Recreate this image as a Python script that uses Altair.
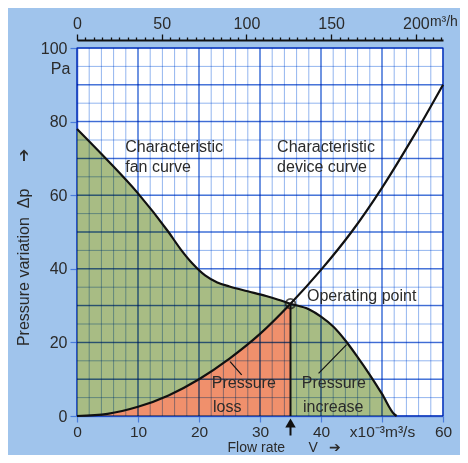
import altair as alt
import pandas as pd

# ---------------- data ----------------
fan_flow = [0, 5, 10, 15, 17, 19, 21, 23, 25, 28, 31, 33, 35, 38, 40, 42, 44, 46, 48, 50, 52, 52.4]
fan_dp = [78, 69.5, 60.5, 50, 45.3, 41.3, 38.2, 36.3, 35.2, 33.9, 32.6, 31.6, 30.5, 29, 27, 24.3, 20.5, 16, 11.2, 6, 0.5, 0]

dev_flow = [0, 5, 10, 15, 20, 25, 30, 35, 40, 45, 50, 55, 60]
dev_dp = [0, 0.6, 2.5, 5.6, 10, 15.6, 22.3, 30.5, 39.7, 50, 62, 75.5, 90]

op_flow = 35
op_dp = 30.5

x_ticks = [0, 10, 20, 30, 40, 50, 60]
y_ticks = [0, 10, 20, 30, 40, 50, 60, 70, 80, 90, 100]
top_ticks = list(range(0, 216, 5))          # m3/h
grid_x_minor = list(range(0, 61, 2))
grid_y_minor = list(range(0, 101, 5))
grid_x_major = [v for v in grid_x_minor if v % 10 == 0]
grid_y_major = [v for v in grid_y_minor if v % 10 == 0]

ann_left_x = [7.9, 7.9, 32.8, 32.8, 37.7, 22.1, 22.3]
ann_left_y = [73.1, 67.6, 73.1, 67.6, 32.5, 8.9, 2.5]
ann_left_t = ["Characteristic", "fan curve", "Characteristic", "device curve",
              "Operating point", "Pressure", "loss"]
ann_center_x = [42.1, 42.0]
ann_center_y = [8.9, 2.5]
ann_center_t = ["Pressure", "increase"]

pointer_x = [25.1, 44.2]
pointer_y = [14.8, 19.4]
pointer_x2 = [27.0, 39.6]
pointer_y2 = [11.2, 11.6]

NB = "\u00a0"
x_title = "Flow rate" + NB * 6 + "V" + NB * 3 + "➔"
y_title = "Pressure variation" + NB * 2 + "Δp" + NB * 6 + "➔"

# ---------------- styles ----------------
FONT = "Liberation Sans"
BG = "#a0c4ec"
BLUE = "#4a7ddb"
GRID_MINOR = "#93b6ef"
GRID_MAJOR = "#6792e2"
GREEN = "#a8bc84"
ORANGE = "#f0906c"
TEXT = "#2b2b2b"
INK = "#111111"

xs = alt.Scale(domain=[0, 60], nice=False, zero=False)
ys = alt.Scale(domain=[0, 100], nice=False, zero=False)

fan_df = pd.DataFrame({"x": fan_flow, "y": fan_dp})
dev_df = pd.DataFrame({"x": dev_flow, "y": dev_dp})
op_df = pd.DataFrame({"x": [op_flow], "y": [op_dp], "y0": [0]})

x_axis = alt.Axis(
    values=x_ticks,
    labelExpr="datum.value === 50 ? 'x10⁻³m³/s' : datum.label",
    grid=False, domainColor=BLUE, domainWidth=1.5,
    tickColor=BLUE, tickSize=6, tickWidth=1.2,
    labelFontSize=15.5, labelColor=TEXT, labelPadding=2,
    labelFlush=False, labelOverlap=False,
    title=x_title, titleFontSize=14, titleFontWeight="normal",
    titleColor=TEXT, titleX=207, titleY=31.5, titleBaseline="middle", titleAlign="center",
)
y_axis = alt.Axis(
    values=y_ticks,
    labelExpr="datum.value % 20 === 0 ? datum.label : ''",
    grid=False, domainColor=BLUE, domainWidth=1.5,
    tickColor=BLUE, tickWidth=1.2,
    tickSize={"condition": {"test": "datum.value % 20 === 0", "value": 7}, "value": 4},
    labelFontSize=16, labelColor=TEXT, labelPadding=3,
    labelFlush=False, labelOverlap=False,
    title=y_title, titleFontSize=16, titleFontWeight="normal",
    titleColor=TEXT, titleX=-54, titleY=199, titleBaseline="middle", titleAlign="center",
    titleAngle=270,
)


def X(field):
    return alt.X(field, scale=xs)


def Y(field):
    return alt.Y(field, scale=ys)


green = alt.Chart(fan_df).mark_area(color=GREEN, interpolate="monotone").encode(
    x=alt.X("x:Q", scale=xs, axis=x_axis),
    y=alt.Y("y:Q", scale=ys, axis=y_axis),
)
orange = alt.Chart(dev_df).transform_filter(f"datum.x <= {op_flow}").mark_area(
    color=ORANGE, interpolate="monotone").encode(x=X("x:Q"), y=Y("y:Q"))


def vgrid(vals, color, width):
    df = pd.DataFrame({"x": vals, "lo": 0, "hi": 100})
    return alt.Chart(df).mark_rule(color=color, strokeWidth=width, blend="multiply").encode(
        x=X("x:Q"), y=Y("lo:Q"), y2="hi:Q")


def hgrid(vals, color, width):
    df = pd.DataFrame({"y": vals, "lo": 0, "hi": 60})
    return alt.Chart(df).mark_rule(color=color, strokeWidth=width, blend="multiply").encode(
        y=Y("y:Q"), x=X("lo:Q"), x2="hi:Q")


fan_line = alt.Chart(fan_df).mark_line(color=INK, strokeWidth=2.2, interpolate="monotone").encode(
    x=X("x:Q"), y=Y("y:Q"))
dev_line = alt.Chart(dev_df).mark_line(color=INK, strokeWidth=2.2, interpolate="monotone").encode(
    x=X("x:Q"), y=Y("y:Q"))

op_rule = alt.Chart(op_df).mark_rule(color=INK, strokeWidth=2).encode(
    x=X("x:Q"), y=Y("y0:Q"), y2="y:Q")
op_circle = alt.Chart(op_df).mark_point(
    shape="circle", filled=False, color=INK, strokeWidth=1.8, size=95).encode(
    x=X("x:Q"), y=Y("y:Q"))

arrow_df = pd.DataFrame({"x": [op_flow], "top": [-2.5], "bot": [-5.3], "head": [-1.9]})
arrow_stem = alt.Chart(arrow_df).mark_rule(color=INK, strokeWidth=2).encode(
    x=X("x:Q"), y=Y("top:Q"), y2="bot:Q")
arrow_head = alt.Chart(arrow_df).mark_point(
    shape="triangle-up", filled=True, color=INK, opacity=1, size=110).encode(
    x=X("x:Q"), y=Y("head:Q"))

ptr_df = pd.DataFrame({"x": pointer_x, "y": pointer_y, "x2": pointer_x2, "y2": pointer_y2})
pointers = alt.Chart(ptr_df).mark_rule(color=INK, strokeWidth=1.2).encode(
    x=X("x:Q"), y=Y("y:Q"), x2="x2:Q", y2="y2:Q")

left_df = pd.DataFrame({"x": ann_left_x, "y": ann_left_y, "t": ann_left_t})
left_text = alt.Chart(left_df).mark_text(
    align="left", baseline="middle", fontSize=16, color=TEXT, font=FONT).encode(
    x=X("x:Q"), y=Y("y:Q"), text="t:N")
center_df = pd.DataFrame({"x": ann_center_x, "y": ann_center_y, "t": ann_center_t})
center_text = alt.Chart(center_df).mark_text(
    align="center", baseline="middle", fontSize=16, color=TEXT, font=FONT).encode(
    x=X("x:Q"), y=Y("y:Q"), text="t:N")

pa_df = pd.DataFrame({"x": [-1.1], "y": [94.4], "t": ["Pa"]})
pa_text = alt.Chart(pa_df).mark_text(
    align="right", baseline="middle", fontSize=16, color=TEXT, font=FONT).encode(
    x=X("x:Q"), y=Y("y:Q"), text="t:N")
m3h_df = pd.DataFrame({"x": [57.85], "y": [107.0], "t": ["m³/h"]})
m3h_text = alt.Chart(m3h_df).mark_text(
    align="left", baseline="middle", fontSize=14, color=TEXT, font=FONT).encode(
    x=X("x:Q"), y=Y("y:Q"), text="t:N")

main = alt.layer(
    green, orange,
    vgrid(grid_x_minor, GRID_MINOR, 1.0), hgrid(grid_y_minor, GRID_MINOR, 1.0),
    vgrid(grid_x_major, GRID_MAJOR, 1.5), hgrid(grid_y_major, GRID_MAJOR, 1.5),
    fan_line, dev_line, op_rule, pointers, op_circle, arrow_stem, arrow_head,
    left_text, center_text, pa_text, m3h_text,
)

top_axis = alt.Axis(
    orient="top", values=top_ticks,
    labelExpr="datum.value % 50 === 0 ? datum.label : ''",
    grid=False, domainColor=INK, domainWidth=1.8, tickColor=INK, tickWidth=1.3,
    tickSize={"condition": {"test": "datum.value % 50 === 0", "value": 6}, "value": 3},
    offset=8, labelFontSize=16, labelColor=TEXT, labelPadding=3,
    labelFlush=False, labelOverlap=False, title=None,
)
top_df = pd.DataFrame({"m": [0, 216], "y": [0, 0]})
top = alt.Chart(top_df).mark_point(opacity=0).encode(
    x=alt.X("m:Q", scale=alt.Scale(domain=[0, 60 * 3.6], nice=False, zero=False), axis=top_axis),
    y=Y("y:Q"),
)

chart = alt.layer(main, top).resolve_scale(x="independent").properties(
    width=366, height=368, background=BG,
    padding={"left": 69, "top": 40, "right": 17, "bottom": 39},
    autosize=alt.AutoSizeParams(type="none"),
).configure_view(fill="white", stroke=BLUE, strokeWidth=1.5).configure_axis(
    labelFont=FONT, titleFont=FONT)

chart.save("out.html", embed_options={"renderer": "svg", "actions": False})
